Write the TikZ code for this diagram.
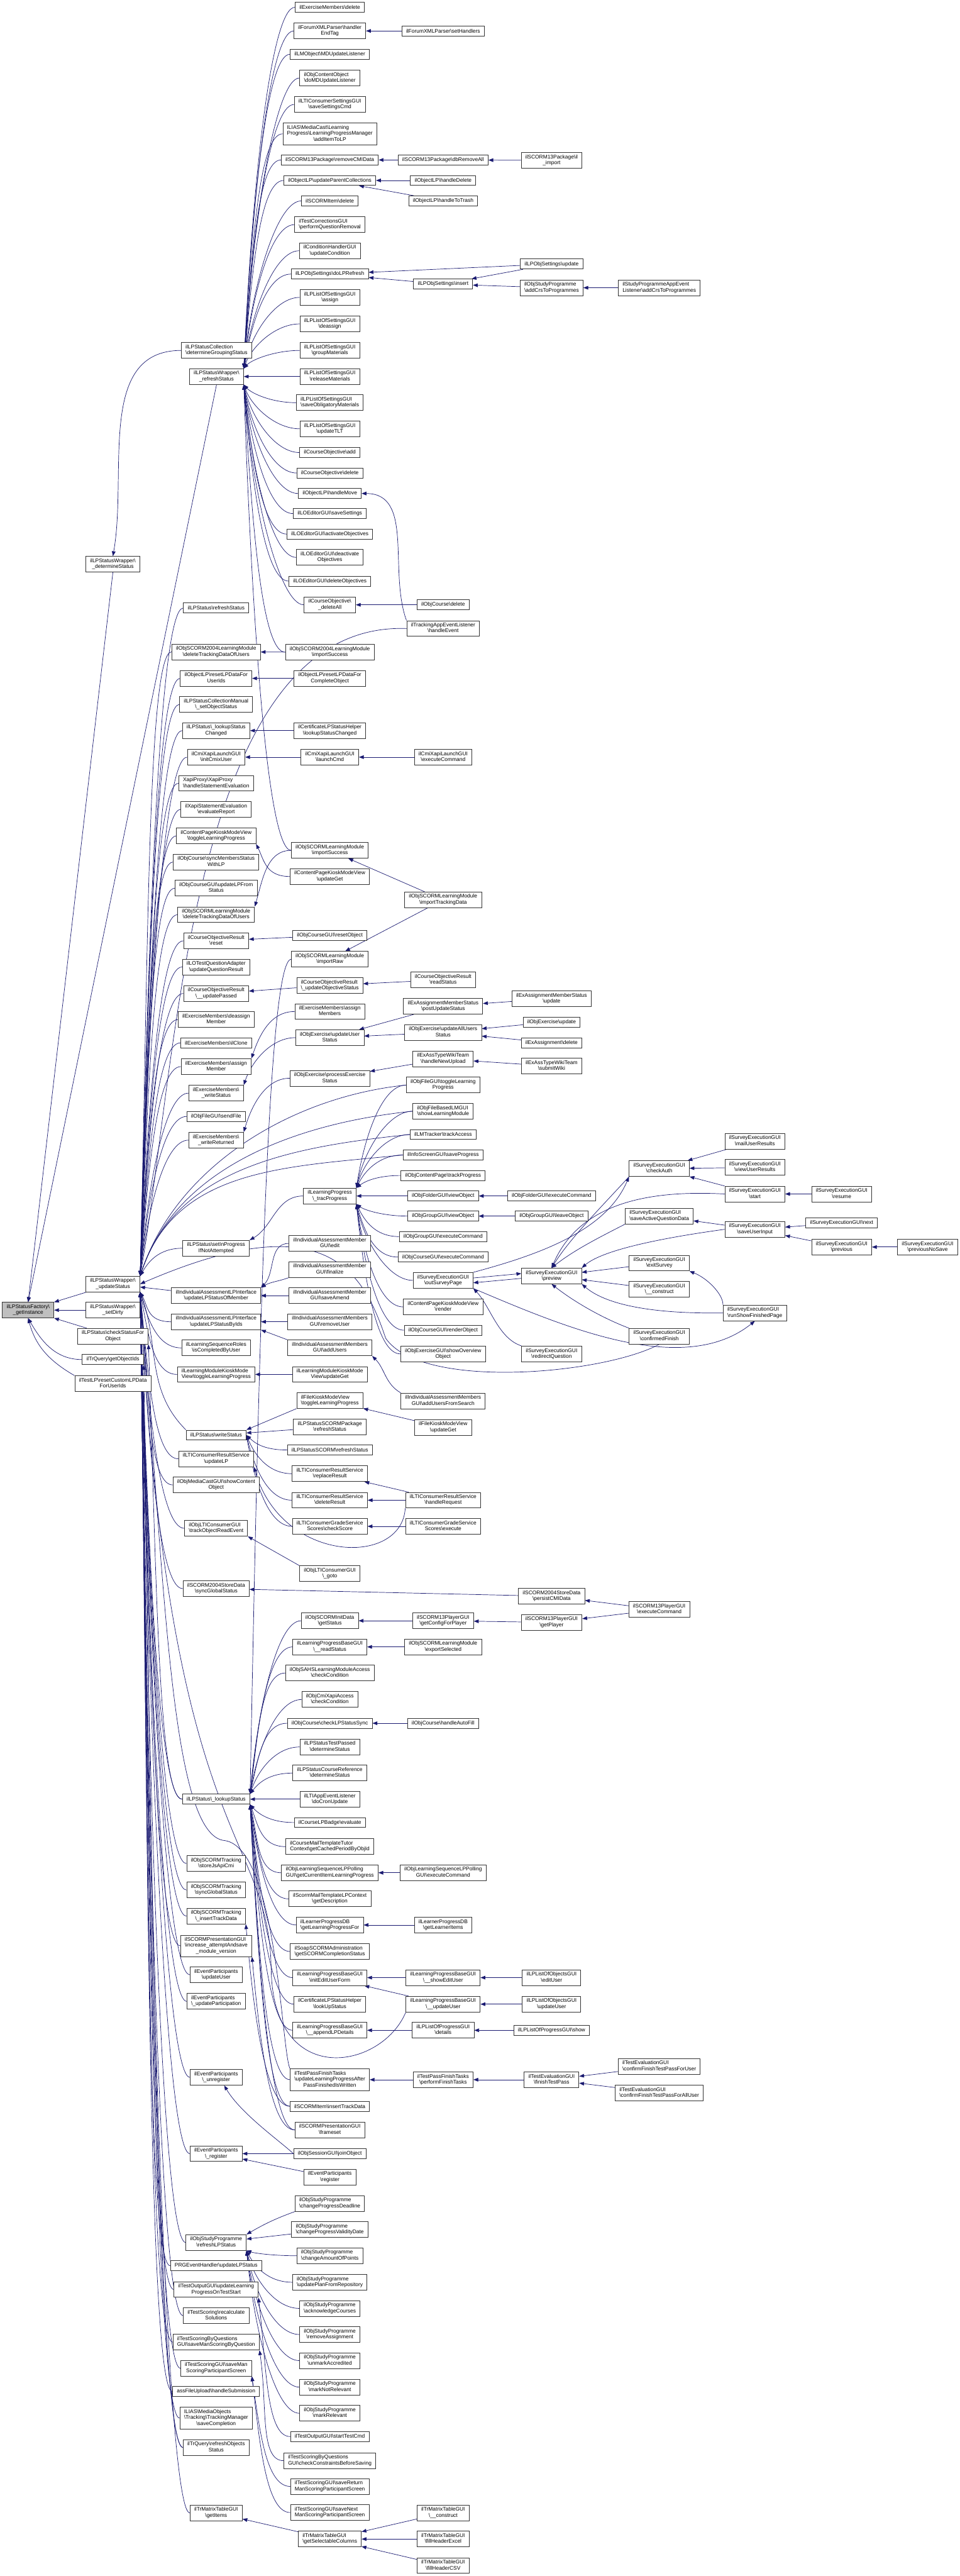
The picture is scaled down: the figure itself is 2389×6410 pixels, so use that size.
\documentclass[tikz,border=0pt]{standalone}
\usepackage{fontspec}
\setmainfont{Liberation Sans}
\usetikzlibrary{arrows.meta,calc}
\definecolor{edgeblue}{HTML}{191970}
\definecolor{boxgray}{HTML}{BFBFBF}
\newcommand*{\bsl}{\textbackslash}
\newcommand{\twol}[2]{\begin{tabular}{@{}l@{}}#1\\\multicolumn{1}{@{}c@{}}{#2}\end{tabular}}
\newcommand{\threel}[3]{\begin{tabular}{@{}l@{}}#1\\#2\\\multicolumn{1}{@{}c@{}}{#3}\end{tabular}}
\pgfdeclarelayer{bg}
\pgfsetlayers{bg,main}

\begin{document}
\begin{tikzpicture}[
        x=1pt, y=-1pt,
        fn/.style={draw=black!80, line width=1.3pt, fill=white, inner xsep=10.5pt, inner ysep=4.8pt,
                   minimum height=25pt, font=\fontsize{13.2}{14.7}\selectfont},
        call/.style={draw=edgeblue, line width=1.1pt, -{Triangle[length=12pt,width=9pt]}},
        fan/.style={to path={.. controls +(-60,0) and ($(\tikztotarget)!0.5!(\tikztotarget |- \tikztostart)+(20,0)$) .. (\tikztotarget)}}
    ]
    \useasboundingbox (0,0) rectangle (2389,6410);

    % column 0
    \node[fn, fill=boxgray] (gi) at (70,3260) {\twol{ilLPStatusFactory\bsl}{\_getInstance}};

    % column 1
    \node[fn] (ds)  at (281,1404) {\twol{ilLPStatusWrapper\bsl}{\_determineStatus}};
    \node[fn] (us)  at (281,3195) {\twol{ilLPStatusWrapper\bsl}{\_updateStatus}};
    \node[fn] (sd)  at (281,3260) {\twol{ilLPStatusWrapper\bsl}{\_setDirty}};
    \node[fn] (csf) at (281,3325) {\twol{ilLPStatus\bsl checkStatusFor}{Object}};
    \node[fn] (goi) at (281,3383) {ilTrQuery\bsl getObjectIds};
    \node[fn] (rcl) at (281,3443) {\twol{ilTestLP\bsl resetCustomLPData}{ForUserIds}};

    % column 2
    \node[fn] (dgs)  at (539,872)  {\twol{ilLPStatusCollection}{\bsl determineGroupingStatus}};
    \node[fn] (rs)   at (539,937)  {\twol{ilLPStatusWrapper\bsl}{\_refreshStatus}};
    \node[fn] (lrs)  at (538,1513) {ilLPStatus\bsl refreshStatus};
    \node[fn] (dtd4) at (538,1622) {\twol{ilObjSCORM2004LearningModule}{\bsl deleteTrackingDataOfUsers}};
    \node[fn] (rlu)  at (538,1688) {\twol{ilObjectLP\bsl resetLPDataFor}{UserIds}};
    \node[fn] (cmso) at (538,1753) {\twol{ilLPStatusCollectionManual}{\bsl\_setObjectStatus}};
    \node[fn] (lsc)  at (538,1818) {\twol{ilLPStatus\bsl\_lookupStatus}{Changed}};
    \node[fn] (icu)  at (538,1884) {\twol{ilCmiXapiLaunchGUI}{\bsl initCmixUser}};
    \node[fn] (hse)  at (538,1949) {\twol{XapiProxy\bsl XapiProxy}{\bsl handleStatementEvaluation}};
    \node[fn] (evr)  at (538,2014) {\twol{ilXapiStatementEvaluation}{\bsl evaluateReport}};
    \node[fn] (cptl) at (538,2080) {\twol{ilContentPageKioskModeView}{\bsl toggleLearningProgress}};
    \node[fn] (sms)  at (538,2145) {\twol{ilObjCourse\bsl syncMembersStatus}{WithLP}};
    \node[fn] (ulf)  at (538,2210) {\twol{ilObjCourseGUI\bsl updateLPFrom}{Status}};
    \node[fn] (dtds) at (538,2276) {\twol{ilObjSCORMLearningModule}{\bsl deleteTrackingDataOfUsers}};
    \node[fn] (cor)  at (538,2341) {\twol{ilCourseObjectiveResult}{\bsl reset}};
    \node[fn] (uqr)  at (538,2406) {\twol{ilLOTestQuestionAdapter}{\bsl updateQuestionResult}};
    \node[fn] (cup)  at (538,2472) {\twol{ilCourseObjectiveResult}{\bsl\_\_updatePassed}};
    \node[fn] (edm)  at (538,2537) {\twol{ilExerciseMembers\bsl deassign}{Member}};
    \node[fn] (ecl)  at (538,2595) {ilExerciseMembers\bsl ilClone};
    \node[fn] (eam)  at (538,2654) {\twol{ilExerciseMembers\bsl assign}{Member}};
    \node[fn] (ews)  at (538,2720) {\twol{ilExerciseMembers\bsl}{\_writeStatus}};
    \node[fn] (sf)   at (538,2778) {ilObjFileGUI\bsl sendFile};
    \node[fn] (ewr)  at (538,2837) {\twol{ilExerciseMembers\bsl}{\_writeReturned}};
    \node[fn] (sip)  at (538,3106) {\twol{ilLPStatus\bsl setInProgress}{IfNotAttempted}};
    \node[fn] (ulm)  at (538,3224) {\twol{ilIndividualAssessmentLPInterface}{\bsl updateLPStatusOfMember}};
    \node[fn] (ulb)  at (538,3289) {\twol{ilIndividualAssessmentLPInterface}{\bsl updateLPStatusByIds}};
    \node[fn] (icb)  at (538,3354) {\twol{ilLearningSequenceRoles}{\bsl isCompletedByUser}};
    \node[fn] (lmtl) at (538,3420) {\twol{ilLearningModuleKioskMode}{View\bsl toggleLearningProgress}};
    \node[fn] (ws)   at (538,3571) {ilLPStatus\bsl writeStatus};
    \node[fn] (ulp)  at (538,3630) {\twol{ilLTIConsumerResultService}{\bsl updateLP}};
    \node[fn] (msc)  at (538,3695) {\twol{ilObjMediaCastGUI\bsl showContent}{Object}};
    \node[fn] (tor)  at (538,3803) {\twol{ilObjLTIConsumerGUI}{\bsl trackObjectReadEvent}};
    \node[fn] (sgs)  at (538,3953) {\twol{ilSCORM2004StoreData}{\bsl syncGlobalStatus}};
    \node[fn] (ls)   at (538,4477) {ilLPStatus\bsl\_lookupStatus};
    \node[fn] (sjc)  at (538,4637) {\twol{ilObjSCORMTracking}{\bsl storeJsApiCmi}};
    \node[fn] (tsg)  at (538,4703) {\twol{ilObjSCORMTracking}{\bsl syncGlobalStatus}};
    \node[fn] (itd)  at (538,4768) {\twol{ilObjSCORMTracking}{\bsl\_insertTrackData}};
    \node[fn] (iam)  at (538,4842) {\threel{ilSCORMPresentationGUI}{\bsl increase\_attemptAndsave}{\_module\_version}};
    \node[fn] (epu)  at (538,4914) {\twol{ilEventParticipants}{\bsl updateUser}};
    \node[fn] (epp)  at (538,4980) {\twol{ilEventParticipants}{\bsl\_updateParticipation}};
    \node[fn] (epun) at (538,5169) {\twol{ilEventParticipants}{\bsl\_unregister}};
    \node[fn] (epr)  at (538,5359) {\twol{ilEventParticipants}{\bsl\_register}};
    \node[fn] (rlp)  at (538,5580) {\twol{ilObjStudyProgramme}{\bsl refreshLPStatus}};
    \node[fn] (prg)  at (538,5638) {PRGEventHandler\bsl updateLPStatus};
    \node[fn] (tos)  at (538,5697) {\twol{ilTestOutputGUI\bsl updateLearning}{ProgressOnTestStart}};
    \node[fn] (trs)  at (538,5762) {\twol{ilTestScoring\bsl recalculate}{Solutions}};
    \node[fn] (smq)  at (538,5828) {\twol{ilTestScoringByQuestions}{GUI\bsl saveManScoringByQuestion}};
    \node[fn] (smp)  at (538,5893) {\twol{ilTestScoringGUI\bsl saveMan}{ScoringParticipantScreen}};
    \node[fn] (afu)  at (538,5951) {assFileUpload\bsl handleSubmission};
    \node[fn] (tmsc) at (538,6017) {\threel{ILIAS\bsl MediaObjects}{\bsl Tracking\bsl TrackingManager}{\bsl saveCompletion}};
    \node[fn] (ros)  at (538,6090) {\twol{ilTrQuery\bsl refreshObjects}{Status}};
    \node[fn] (gis)  at (538,6253) {\twol{ilTrMatrixTableGUI}{\bsl getItems}};

    % column 3
    \node[fn] (exd)  at (821,18)   {ilExerciseMembers\bsl delete};
    \node[fn] (het)  at (821,77)   {\twol{ilForumXMLParser\bsl handler}{EndTag}};
    \node[fn] (mdu)  at (821,135)  {ilLMObject\bsl MDUpdateListener};
    \node[fn] (dmd)  at (821,194)  {\twol{ilObjContentObject}{\bsl doMDUpdateListener}};
    \node[fn] (ssc)  at (821,260)  {\twol{ilLTIConsumerSettingsGUI}{\bsl saveSettingsCmd}};
    \node[fn] (ail)  at (821,333)  {\threel{ILIAS\bsl MediaCast\bsl Learning}{Progress\bsl LearningProgressManager}{\bsl addItemToLP}};
    \node[fn] (rcd)  at (821,398)  {ilSCORM13Package\bsl removeCMIData};
    \node[fn] (upc)  at (821,449)  {ilObjectLP\bsl updateParentCollections};
    \node[fn] (sid)  at (821,500)  {ilSCORMItem\bsl delete};
    \node[fn] (pqr)  at (821,559)  {\twol{ilTestCorrectionsGUI}{\bsl performQuestionRemoval}};
    \node[fn] (uc)   at (821,624)  {\twol{ilConditionHandlerGUI}{\bsl updateCondition}};
    \node[fn] (dlr)  at (821,682)  {ilLPObjSettings\bsl doLPRefresh};
    \node[fn] (las)  at (821,740)  {\twol{ilLPListOfSettingsGUI}{\bsl assign}};
    \node[fn] (lda)  at (821,806)  {\twol{ilLPListOfSettingsGUI}{\bsl deassign}};
    \node[fn] (lgm)  at (821,872)  {\twol{ilLPListOfSettingsGUI}{\bsl groupMaterials}};
    \node[fn] (lrm)  at (821,937)  {\twol{ilLPListOfSettingsGUI}{\bsl releaseMaterials}};
    \node[fn] (lsm)  at (821,1002) {\twol{ilLPListOfSettingsGUI}{\bsl saveObligatoryMaterials}};
    \node[fn] (lut)  at (821,1067) {\twol{ilLPListOfSettingsGUI}{\bsl updateTLT}};
    \node[fn] (coa)  at (821,1126) {ilCourseObjective\bsl add};
    \node[fn] (cod)  at (821,1177) {ilCourseObjective\bsl delete};
    \node[fn] (hmv)  at (821,1228) {ilObjectLP\bsl handleMove};
    \node[fn] (los)  at (821,1278) {ilLOEditorGUI\bsl saveSettings};
    \node[fn] (loa)  at (821,1329) {ilLOEditorGUI\bsl activateObjectives};
    \node[fn] (lod)  at (821,1387) {\twol{ilLOEditorGUI\bsl deactivate}{Objectives}};
    \node[fn] (lodo) at (821,1446) {ilLOEditorGUI\bsl deleteObjectives};
    \node[fn] (cda)  at (821,1505) {\twol{ilCourseObjective\bsl}{\_deleteAll}};
    \node[fn] (is4)  at (821,1623) {\twol{ilObjSCORM2004LearningModule}{\bsl importSuccess}};
    \node[fn] (rlc)  at (821,1688) {\twol{ilObjectLP\bsl resetLPDataFor}{CompleteObject}};
    \node[fn] (clsc) at (821,1818) {\twol{ilCertificateLPStatusHelper}{\bsl lookupStatusChanged}};
    \node[fn] (lcm)  at (821,1884) {\twol{ilCmiXapiLaunchGUI}{\bsl launchCmd}};
    \node[fn] (iss)  at (821,2116) {\twol{ilObjSCORMLearningModule}{\bsl importSuccess}};
    \node[fn] (cpug) at (821,2181) {\twol{ilContentPageKioskModeView}{\bsl updateGet}};
    \node[fn] (rso)  at (821,2328) {ilObjCourseGUI\bsl resetObject};
    \node[fn] (irw)  at (821,2387) {\twol{ilObjSCORMLearningModule}{\bsl importRaw}};
    \node[fn] (uos)  at (821,2452) {\twol{ilCourseObjectiveResult}{\bsl\_updateObjectiveStatus}};
    \node[fn] (eams) at (821,2517) {\twol{ilExerciseMembers\bsl assign}{Members}};
    \node[fn] (uus)  at (821,2582) {\twol{ilObjExercise\bsl updateUser}{Status}};
    \node[fn] (pes)  at (821,2683) {\twol{ilObjExercise\bsl processExercise}{Status}};
    \node[fn] (tp)   at (821,2976) {\twol{ilLearningProgress}{\bsl\_tracProgress}};
    \node[fn] (iae)  at (821,3094) {\twol{ilIndividualAssessmentMember}{GUI\bsl edit}};
    \node[fn] (iaf)  at (821,3159) {\twol{ilIndividualAssessmentMember}{GUI\bsl finalize}};
    \node[fn] (iasa) at (821,3224) {\twol{ilIndividualAssessmentMember}{GUI\bsl saveAmend}};
    \node[fn] (iaru) at (821,3289) {\twol{ilIndividualAssessmentMembers}{GUI\bsl removeUser}};
    \node[fn] (iaau) at (821,3354) {\twol{ilIndividualAssessmentMembers}{GUI\bsl addUsers}};
    \node[fn] (lmug) at (821,3420) {\twol{ilLearningModuleKioskMode}{View\bsl updateGet}};
    \node[fn] (fktl) at (821,3485) {\twol{ilFileKioskModeView}{\bsl toggleLearningProgress}};
    \node[fn] (spr)  at (821,3551) {\twol{ilLPStatusSCORMPackage}{\bsl refreshStatus}};
    \node[fn] (scr)  at (821,3608) {ilLPStatusSCORM\bsl refreshStatus};
    \node[fn] (rpr)  at (821,3667) {\twol{ilLTIConsumerResultService}{\bsl replaceResult}};
    \node[fn] (dlt)  at (821,3733) {\twol{ilLTIConsumerResultService}{\bsl deleteResult}};
    \node[fn] (csc)  at (821,3798) {\twol{ilLTIConsumerGradeService}{Scores\bsl checkScore}};
    \node[fn] (ltg)  at (821,3916) {\twol{ilObjLTIConsumerGUI}{\bsl\_goto}};
    \node[fn] (gst)  at (821,4033) {\twol{ilObjSCORMInitData}{\bsl getStatus}};
    \node[fn] (rst)  at (821,4098) {\twol{ilLearningProgressBaseGUI}{\bsl\_\_readStatus}};
    \node[fn] (sahs) at (821,4163) {\twol{ilObjSAHSLearningModuleAccess}{\bsl checkCondition}};
    \node[fn] (cxa)  at (821,4229) {\twol{ilObjCmiXapiAccess}{\bsl checkCondition}};
    \node[fn] (cls)  at (821,4288) {ilObjCourse\bsl checkLPStatusSync};
    \node[fn] (tpd)  at (821,4347) {\twol{ilLPStatusTestPassed}{\bsl determineStatus}};
    \node[fn] (crd)  at (821,4412) {\twol{ilLPStatusCourseReference}{\bsl determineStatus}};
    \node[fn] (dcu)  at (821,4477) {\twol{ilLTIAppEventListener}{\bsl doCronUpdate}};
    \node[fn] (cbe)  at (821,4535) {ilCourseLPBadge\bsl evaluate};
    \node[fn] (cmt)  at (821,4595) {\twol{ilCourseMailTemplateTutor}{Context\bsl getCachedPeriodByObjId}};
    \node[fn] (lpp)  at (821,4660) {\twol{ilObjLearningSequenceLPPolling}{GUI\bsl getCurrentItemLearningProgress}};
    \node[fn] (smd)  at (821,4725) {\twol{ilScormMailTemplateLPContext}{\bsl getDescription}};
    \node[fn] (lpf)  at (821,4790) {\twol{ilLearnerProgressDB}{\bsl getLearningProgressFor}};
    \node[fn] (scs)  at (821,4856) {\twol{ilSoapSCORMAdministration}{\bsl getSCORMCompletionStatus}};
    \node[fn] (ieu)  at (821,4921) {\twol{ilLearningProgressBaseGUI}{\bsl initEditUserForm}};
    \node[fn] (clu)  at (821,4987) {\twol{ilCertificateLPStatusHelper}{\bsl lookUpStatus}};
    \node[fn] (ald)  at (821,5052) {\twol{ilLearningProgressBaseGUI}{\bsl\_\_appendLPDetails}};
    \node[fn] (ulpa) at (821,5175) {\threel{ilTestPassFinishTasks}{\bsl updateLearningProgressAfter}{PassFinishedIsWritten}};
    \node[fn] (sitd) at (821,5241) {ilSCORMItem\bsl insertTrackData};
    \node[fn] (spm)  at (821,5300) {\twol{ilSCORMPresentationGUI}{\bsl frameset}};
    \node[fn] (sjo)  at (821,5359) {ilObjSessionGUI\bsl joinObject};
    \node[fn] (epg)  at (821,5417) {\twol{ilEventParticipants}{\bsl register}};
    \node[fn] (cpd)  at (821,5483) {\twol{ilObjStudyProgramme}{\bsl changeProgressDeadline}};
    \node[fn] (cpv)  at (821,5548) {\twol{ilObjStudyProgramme}{\bsl changeProgressValidityDate}};
    \node[fn] (cap)  at (821,5613) {\twol{ilObjStudyProgramme}{\bsl changeAmountOfPoints}};
    \node[fn] (upr)  at (821,5679) {\twol{ilObjStudyProgramme}{\bsl updatePlanFromRepository}};
    \node[fn] (ack)  at (821,5744) {\twol{ilObjStudyProgramme}{\bsl acknowledgeCourses}};
    \node[fn] (rma)  at (821,5809) {\twol{ilObjStudyProgramme}{\bsl removeAssignment}};
    \node[fn] (uma)  at (821,5874) {\twol{ilObjStudyProgramme}{\bsl unmarkAccredited}};
    \node[fn] (mnr)  at (821,5940) {\twol{ilObjStudyProgramme}{\bsl markNotRelevant}};
    \node[fn] (mre)  at (821,6005) {\twol{ilObjStudyProgramme}{\bsl markRelevant}};
    \node[fn] (stc)  at (821,6063) {ilTestOutputGUI\bsl startTestCmd};
    \node[fn] (ccb)  at (821,6123) {\twol{ilTestScoringByQuestions}{GUI\bsl checkConstraintsBeforeSaving}};
    \node[fn] (srm)  at (821,6187) {\twol{ilTestScoringGUI\bsl saveReturn}{ManScoringParticipantScreen}};
    \node[fn] (snm)  at (821,6252) {\twol{ilTestScoringGUI\bsl saveNext}{ManScoringParticipantScreen}};
    \node[fn] (gsc)  at (821,6318) {\twol{ilTrMatrixTableGUI}{\bsl getSelectableColumns}};

    % column 4
    \node[fn] (sh)   at (1103,77)   {ilForumXMLParser\bsl setHandlers};
    \node[fn] (dra)  at (1103,398)  {ilSCORM13Package\bsl dbRemoveAll};
    \node[fn] (hdl)  at (1103,449)  {ilObjectLP\bsl handleDelete};
    \node[fn] (htt)  at (1103,500)  {ilObjectLP\bsl handleToTrash};
    \node[fn] (ins)  at (1103,707)  {ilLPObjSettings\bsl insert};
    \node[fn] (ocd)  at (1103,1505) {ilObjCourse\bsl delete};
    \node[fn] (tae)  at (1103,1564) {\twol{ilTrackingAppEventListener}{\bsl handleEvent}};
    \node[fn] (cxe)  at (1103,1884) {\twol{ilCmiXapiLaunchGUI}{\bsl executeCommand}};
    \node[fn] (itr)  at (1103,2239) {\twol{ilObjSCORMLearningModule}{\bsl importTrackingData}};
    \node[fn] (rds)  at (1103,2438) {\twol{ilCourseObjectiveResult}{\bsl readStatus}};
    \node[fn] (pus)  at (1103,2504) {\twol{ilExAssignmentMemberStatus}{\bsl postUpdateStatus}};
    \node[fn] (uaus) at (1103,2569) {\twol{ilObjExercise\bsl updateAllUsers}{Status}};
    \node[fn] (hnu)  at (1103,2635) {\twol{ilExAssTypeWikiTeam}{\bsl handleNewUpload}};
    \node[fn] (ftl)  at (1103,2700) {\twol{ilObjFileGUI\bsl toggleLearning}{Progress}};
    \node[fn] (sslm) at (1103,2765) {\twol{ilObjFileBasedLMGUI}{\bsl showLearningModule}};
    \node[fn] (lta)  at (1103,2823) {ilLMTracker\bsl trackAccess};
    \node[fn] (isp)  at (1103,2874) {ilInfoScreenGUI\bsl saveProgress};
    \node[fn] (cptp) at (1103,2925) {ilObjContentPage\bsl trackProgress};
    \node[fn] (fvo)  at (1103,2976) {ilObjFolderGUI\bsl viewObject};
    \node[fn] (gvo)  at (1103,3026) {ilObjGroupGUI\bsl viewObject};
    \node[fn] (gec)  at (1103,3077) {ilObjGroupGUI\bsl executeCommand};
    \node[fn] (cec)  at (1103,3128) {ilObjCourseGUI\bsl executeCommand};
    \node[fn] (osp)  at (1103,3186) {\twol{ilSurveyExecutionGUI}{\bsl outSurveyPage}};
    \node[fn] (cpr)  at (1103,3252) {\twol{ilContentPageKioskModeView}{\bsl render}};
    \node[fn] (cro)  at (1103,3310) {ilObjCourseGUI\bsl renderObject};
    \node[fn] (sovo) at (1103,3369) {\twol{ilObjExerciseGUI\bsl showOverview}{Object}};
    \node[fn] (aufs) at (1103,3486) {\twol{ilIndividualAssessmentMembers}{GUI\bsl addUsersFromSearch}};
    \node[fn] (fkug) at (1103,3552) {\twol{ilFileKioskModeView}{\bsl updateGet}};
    \node[fn] (hrq)  at (1103,3733) {\twol{ilLTIConsumerResultService}{\bsl handleRequest}};
    \node[fn] (gse)  at (1103,3798) {\twol{ilLTIConsumerGradeService}{Scores\bsl execute}};
    \node[fn] (gcp)  at (1103,4033) {\twol{ilSCORM13PlayerGUI}{\bsl getConfigForPlayer}};
    \node[fn] (exs)  at (1103,4098) {\twol{ilObjSCORMLearningModule}{\bsl exportSelected}};
    \node[fn] (haf)  at (1103,4288) {ilObjCourse\bsl handleAutoFill};
    \node[fn] (lpec) at (1103,4660) {\twol{ilObjLearningSequenceLPPolling}{GUI\bsl executeCommand}};
    \node[fn] (gli)  at (1103,4790) {\twol{ilLearnerProgressDB}{\bsl getLearnerItems}};
    \node[fn] (seu)  at (1103,4921) {\twol{ilLearningProgressBaseGUI}{\bsl\_\_showEditUser}};
    \node[fn] (uu)   at (1103,4987) {\twol{ilLearningProgressBaseGUI}{\bsl\_\_updateUser}};
    \node[fn] (lpd)  at (1103,5052) {\twol{ilLPListOfProgressGUI}{\bsl details}};
    \node[fn] (pft)  at (1103,5175) {\twol{ilTestPassFinishTasks}{\bsl performFinishTasks}};
    \node[fn] (tmc)  at (1103,6253) {\twol{ilTrMatrixTableGUI}{\bsl\_\_construct}};
    \node[fn] (fhe)  at (1103,6318) {\twol{ilTrMatrixTableGUI}{\bsl fillHeaderExcel}};
    \node[fn] (fhc)  at (1103,6384) {\twol{ilTrMatrixTableGUI}{\bsl fillHeaderCSV}};

    % column 5
    \node[fn] (sii)  at (1373,399)  {\twol{ilSCORM13Package\bsl il}{\_import}};
    \node[fn] (lou)  at (1373,657)  {ilLPObjSettings\bsl update};
    \node[fn] (acp)  at (1373,716)  {\twol{ilObjStudyProgramme}{\bsl addCrsToProgrammes}};
    \node[fn] (emu)  at (1373,2485) {\twol{ilExAssignmentMemberStatus}{\bsl update}};
    \node[fn] (oeu)  at (1373,2543) {ilObjExercise\bsl update};
    \node[fn] (ead)  at (1373,2595) {ilExAssignment\bsl delete};
    \node[fn] (swk)  at (1373,2653) {\twol{ilExAssTypeWikiTeam}{\bsl submitWiki}};
    \node[fn] (fec)  at (1373,2976) {ilObjFolderGUI\bsl executeCommand};
    \node[fn] (glo)  at (1373,3026) {ilObjGroupGUI\bsl leaveObject};
    \node[fn] (pv)   at (1373,3175) {\twol{ilSurveyExecutionGUI}{\bsl preview}};
    \node[fn] (rdq)  at (1373,3369) {\twol{ilSurveyExecutionGUI}{\bsl redirectQuestion}};
    \node[fn] (pcd)  at (1373,3972) {\twol{ilSCORM2004StoreData}{\bsl persistCMIData}};
    \node[fn] (gpl)  at (1373,4037) {\twol{ilSCORM13PlayerGUI}{\bsl getPlayer}};
    \node[fn] (leu)  at (1373,4921) {\twol{ilLPListOfObjectsGUI}{\bsl editUser}};
    \node[fn] (luu)  at (1373,4987) {\twol{ilLPListOfObjectsGUI}{\bsl updateUser}};
    \node[fn] (lps)  at (1373,5052) {ilLPListOfProgressGUI\bsl show};
    \node[fn] (ftp)  at (1373,5175) {\twol{ilTestEvaluationGUI}{\bsl finishTestPass}};

    % column 6
    \node[fn] (sae)  at (1641,716)  {\twol{ilStudyProgrammeAppEvent}{Listener\bsl addCrsToProgrammes}};
    \node[fn] (ca)   at (1641,2908) {\twol{ilSurveyExecutionGUI}{\bsl checkAuth}};
    \node[fn] (saq)  at (1641,3026) {\twol{ilSurveyExecutionGUI}{\bsl saveActiveQuestionData}};
    \node[fn] (xs)   at (1641,3143) {\twol{ilSurveyExecutionGUI}{\bsl exitSurvey}};
    \node[fn] (sco)  at (1641,3208) {\twol{ilSurveyExecutionGUI}{\bsl\_\_construct}};
    \node[fn] (cf)   at (1641,3325) {\twol{ilSurveyExecutionGUI}{\bsl confirmedFinish}};
    \node[fn] (pec)  at (1641,4005) {\twol{ilSCORM13PlayerGUI}{\bsl executeCommand}};
    \node[fn] (cfu)  at (1641,5142) {\twol{ilTestEvaluationGUI}{\bsl confirmFinishTestPassForUser}};
    \node[fn] (cfa)  at (1641,5208) {\twol{ilTestEvaluationGUI}{\bsl confirmFinishTestPassForAllUser}};

    % columns 7 to 9
    \node[fn] (mur)  at (1879,2840) {\twol{ilSurveyExecutionGUI}{\bsl mailUserResults}};
    \node[fn] (vur)  at (1879,2905) {\twol{ilSurveyExecutionGUI}{\bsl viewUserResults}};
    \node[fn] (sst)  at (1879,2971) {\twol{ilSurveyExecutionGUI}{\bsl start}};
    \node[fn] (sui)  at (1879,3059) {\twol{ilSurveyExecutionGUI}{\bsl saveUserInput}};
    \node[fn] (rsf)  at (1879,3267) {\twol{ilSurveyExecutionGUI}{\bsl runShowFinishedPage}};
    \node[fn] (res)  at (2095,2971) {\twol{ilSurveyExecutionGUI}{\bsl resume}};
    \node[fn] (nxt)  at (2095,3043) {ilSurveyExecutionGUI\bsl next};
    \node[fn] (prv)  at (2095,3103) {\twol{ilSurveyExecutionGUI}{\bsl previous}};
    \node[fn] (pns)  at (2309,3103) {\twol{ilSurveyExecutionGUI}{\bsl previousNoSave}};

    \begin{pgfonlayer}{bg}
    % into _getInstance
    \draw[call] (ds.south) -- (gi.north);
    \draw[call] (rs.south) -- (gi.north);
    \draw[call] (us) -- (gi);
    \draw[call] (sd) -- (gi);
    \draw[call] (csf) -- (gi);
    \draw[call] (goi.west) to[out=180,in=-60] (gi.south);
    \draw[call] (rcl.north west) to[out=150,in=-75] (gi.south);
    \draw[call] (dgs.west) to[out=180,in=80] (ds.north);

    % into _refreshStatus
    \foreach \n in {exd,het,mdu,dmd,ssc,ail,rcd,upc,sid,pqr,uc,dlr,las,lda,lgm}
        \draw[call] (\n.west) to[fan] (rs.north east);
    \draw[call] (lrm) -- (rs);
    \foreach \n in {lsm,lut,coa,cod,hmv,los,loa,lod,lodo,cda,is4,iss}
        \draw[call] (\n.west) to[fan] (rs.south east);

    % into _updateStatus
    \foreach \n in {lrs,dtd4,rlu,cmso,lsc,icu,hse,evr,cptl,sms,ulf,dtds,cor,uqr,cup,edm,ecl,eam,ews,sf,ewr,sip}
        \draw[call] (\n.west) to[fan] (us.north east);
    \draw[call] (ulm) -- (us);
    \foreach \n in {ulb,icb,lmtl,ulp,msc,tor,sgs,ls,sjc,tsg,itd,iam,epu,epp,epun,epr,rlp,prg,tos,trs,smq,smp,afu,tmsc,ros,gis}
        \draw[call] (\n.west) to[fan] (us.south east);
    \draw[call] (ws.north west) to[out=135,in=-70] (us.south east);
    \foreach \n in {ftl,sslm,lta,isp}
        \draw[call] (\n.west) .. controls +(-290,30) and +(90,-270) .. (us.north east);
    \draw[call] (tae.west) .. controls (470,1545) and (443,2640) .. (us.north east);
    \draw[call] (cf.south) .. controls (1500,3420) and (1050,3460) .. (960,3330) .. controls (900,3150) and (800,3000) .. (us.east);
    \draw[call] (uu.south west) .. controls (950,5150) and (680,5200) .. (675,4900) .. controls (670,4550) and (420,4600) .. (us.south east);
    \draw[call] (ulpa.north west) .. controls (700,5100) and (690,4600) .. (560,4580) .. controls (420,4570) and (410,3900) .. (us.south east);

    % into _tracProgress
    \foreach \n in {ftl,sslm,lta,isp,cptp}
        \draw[call] (\n.west) to[fan] (tp.north east);
    \draw[call] (fvo) -- (tp);
    \foreach \n in {gvo,gec,cec,osp,cpr,cro,sovo}
        \draw[call] (\n.west) to[fan] (tp.south east);
    \draw[call] (tp.west) to[out=180,in=30] (sip.north east);

    % into _lookupStatus
    \foreach \n in {gst,rst,sahs,cxa,cls,tpd,crd,irw}
        \draw[call] (\n.west) to[fan] (ls.north east);
    \draw[call] (dcu) -- (ls);
    \foreach \n in {cbe,cmt,lpp,smd,lpf,scs,ieu,clu,ald,ulpa,sitd,spm}
        \draw[call] (\n.west) to[fan] (ls.south east);
    \draw[call] (ls.west) to[fan] (csf.south east);
    \draw[call] (ros.west) to[fan] (goi.south east);

    % into writeStatus
    \draw[call] (fktl.south west) -- (ws.north east);
    \draw[call] (spr) -- (ws);
    \foreach \n in {scr,rpr,dlt,csc}
        \draw[call] (\n.west) to[fan] (ws.east);

    % into refreshLPStatus
    \draw[call] (cpd.south west) to[out=200,in=30] (rlp.north east);
    \draw[call] (cpv) -- (rlp);
    \foreach \n in {cap,upr,ack,rma,uma,mnr,mre}
        \draw[call] (\n.west) to[fan] (rlp.south east);

    % single callers
    \draw[call] (sh) -- (het);
    \draw[call] (sii) -- (dra);
    \draw[call] (dra) -- (rcd);
    \draw[call] (hdl) -- (upc);
    \draw[call] (htt) -- (upc);
    \draw[call] (lou) -- (dlr);
    \draw[call] (ins) -- (dlr);
    \draw[call] (lou) -- (ins);
    \draw[call] (acp) -- (ins);
    \draw[call] (sae) -- (acp);
    \draw[call] (ocd) -- (cda);
    \draw[call] (tae.north west) to[out=110,in=0] (hmv.east);
    \draw[call] (is4) -- (dtd4);
    \draw[call] (rlc) -- (rlu);
    \draw[call] (clsc) -- (lsc);
    \draw[call] (lcm) -- (icu);
    \draw[call] (cxe) -- (lcm);
    \draw[call] (cpug.west) to[fan] (cptl.south east);
    \draw[call] (itr) -- (iss);
    \draw[call] (itr) -- (irw);
    \draw[call] (iss.west) to[fan] (dtds.north east);
    \draw[call] (rso) -- (cor);
    \draw[call] (rds) -- (uos);
    \draw[call] (uos) -- (cup);
    \draw[call] (eams.west) to[fan] (eam.north east);
    \draw[call] (uus.west) to[fan] (ews.north east);
    \draw[call] (pus) -- (uus);
    \draw[call] (uaus) -- (uus);
    \draw[call] (emu) -- (pus);
    \draw[call] (oeu) -- (uaus);
    \draw[call] (ead) -- (uaus);
    \draw[call] (pes.west) to[fan] (ewr.north east);
    \draw[call] (hnu) -- (pes);
    \draw[call] (swk) -- (hnu);
    \draw[call] (fec) -- (fvo);
    \draw[call] (glo) -- (gvo);
    \draw[call] (iae.west) to[out=180,in=45] (ulm.north east);
    \draw[call] (iaf.south west) to[out=200,in=30] (ulm.north east);
    \draw[call] (iasa) -- (ulm);
    \draw[call] (iaru) -- (ulb);
    \draw[call] (iaau.north west) -- (ulb.south east);
    \draw[call] (aufs.north west) to[out=150,in=-45] (iaau.south east);
    \draw[call] (lmug) -- (lmtl);
    \draw[call] (fkug) -- (fktl);
    \draw[call] (hrq) -- (rpr);
    \draw[call] (hrq) -- (dlt);
    \draw[call] (hrq.south west) .. controls (1000,3900) and (700,3890) .. (ulp.south east);
    \draw[call] (gse) -- (csc);
    \draw[call] (ltg.north west) -- (tor.south east);
    \draw[call] (pcd) -- (sgs);
    \draw[call] (pec) -- (pcd);
    \draw[call] (pec) -- (gpl);
    \draw[call] (gpl) -- (gcp);
    \draw[call] (gcp) -- (gst);
    \draw[call] (exs) -- (rst);
    \draw[call] (haf) -- (cls);
    \draw[call] (lpec) -- (lpp);
    \draw[call] (gli) -- (lpf);
    \draw[call] (seu) -- (ieu);
    \draw[call] (uu) -- (ieu);
    \draw[call] (leu) -- (seu);
    \draw[call] (luu) -- (uu);
    \draw[call] (lpd) -- (ald);
    \draw[call] (lps) -- (lpd);
    \draw[call] (pft) -- (ulpa);
    \draw[call] (ftp) -- (pft);
    \draw[call] (cfu) -- (ftp);
    \draw[call] (cfa) -- (ftp);
    \draw[call] (sitd.west) to[fan] (itd.south east);
    \draw[call] (spm.west) to[fan] (iam.south east);
    \draw[call] (sjo) -- (epr);
    \draw[call] (epg) -- (epr);
    \draw[call] (sjo.west) .. controls (700,5330) and (600,5260) .. ([xshift=20pt]epun.south);
    \draw[call] (stc.west) to[fan] (tos.south east);
    \draw[call] (ccb.west) to[fan] (smq.south east);
    \draw[call] (srm.west) to[fan] (smp.south east);
    \draw[call] (snm.west) to[fan] (smp.south east);
    \draw[call] (gsc) -- (gis);
    \draw[call] (tmc) -- (gsc);
    \draw[call] (fhe) -- (gsc);
    \draw[call] (fhc) -- (gsc);

    % survey execution
    \draw[call] (mur) -- (ca);
    \draw[call] (vur) -- (ca);
    \draw[call] (sst) -- (ca);
    \draw[call] (res) -- (sst);
    \draw[call] (sui) -- (saq);
    \draw[call] (nxt) -- (sui);
    \draw[call] (prv) -- (sui);
    \draw[call] (pns) -- (prv);
    \draw[call] (ca.south west) .. controls (1500,3000) and (1420,3080) .. (pv.north);
    \draw[call] (sst.west) .. controls (1600,2960) and (1440,3000) .. (pv.north);
    \draw[call] (saq.south west) .. controls (1490,3080) and (1430,3110) .. (pv.north);
    \draw[call] (sui.west) .. controls (1650,3080) and (1500,3110) .. (pv.north east);
    \draw[call] (xs) -- (pv);
    \draw[call] (sco) -- (pv);
    \draw[call] (cf.north west) .. controls (1500,3280) and (1430,3240) .. (pv.south);
    \draw[call] (rsf.west) .. controls (1600,3270) and (1500,3240) .. (pv.south east);
    \draw[call] ([yshift=6pt]osp.east) -- ([yshift=6pt]pv.west);
    \draw[call] ([yshift=-6pt]pv.west) -- ([yshift=-6pt]osp.east);
    \draw[call] (rdq.north west) .. controls (1240,3330) and (1220,3250) .. (osp.south east);
    \draw[call] (osp.north east) .. controls (1350,3120) and (1510,3060) .. (ca.south west);
    \draw[call] (osp.south east) .. controls (1400,3300) and (1700,3430) .. (rsf.south);
    \draw[call] (rsf.north west) .. controls (1800,3220) and (1760,3180) .. (xs.south east);
    \end{pgfonlayer}
\end{tikzpicture}
\end{document}
